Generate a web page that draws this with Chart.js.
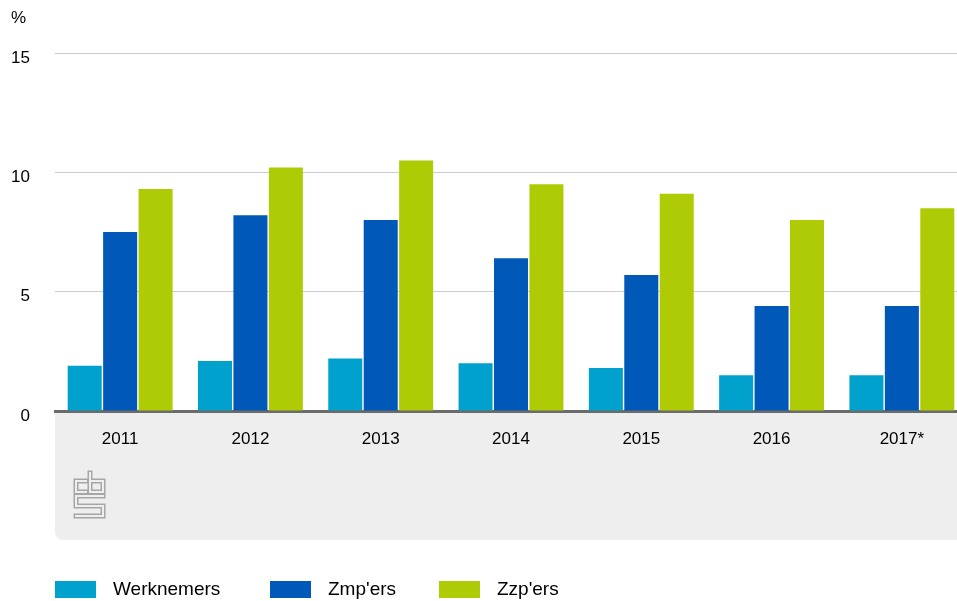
<!DOCTYPE html>
<html>
<head>
    <title>Werknemers, zmp'ers en zzp'ers</title>
    <script src="https://cdn.jsdelivr.net/npm/chart.js"></script>
    <style>
        body { margin: 0; background: #fff; overflow: hidden; }
        #wrap { width: 957px; height: 601px; overflow: hidden; }
    </style>
</head>
<body>
    <div id="wrap"><canvas id="chart" width="967" height="601"></canvas></div>
    <script>
        const years = ['2011', '2012', '2013', '2014', '2015', '2016', '2017*'];
        const werknemers = [1.9, 2.1, 2.2, 2.0, 1.8, 1.5, 1.5];
        const zmpers = [7.5, 8.2, 8.0, 6.4, 5.7, 4.4, 4.4];
        const zzpers = [9.3, 10.2, 10.5, 9.5, 9.1, 8.0, 8.5];
        const yTicks = [0, 5, 10, 15];

        const seriesNames = ['Werknemers', "Zmp'ers", "Zzp'ers"];
        const colors = ['#00a1cd', '#0058b8', '#afcb05'];
        const font = "'Liberation Sans', Arial, Helvetica, sans-serif";

        // grey panel under the axis, cbs logo, % label and legend
        const decor = {
            id: 'decor',
            beforeDraw(chart) {
                const { ctx, chartArea } = chart;
                const x = chart.scales.x;
                const l = chartArea.left, t = chartArea.bottom, r = chartArea.right + 20, b = x.bottom, rad = 9;
                ctx.save();
                ctx.fillStyle = '#eeeeee';
                ctx.beginPath();
                ctx.moveTo(l, t);
                ctx.lineTo(r, t);
                ctx.lineTo(r, b);
                ctx.lineTo(l + rad, b);
                ctx.quadraticCurveTo(l, b, l, b - rad);
                ctx.closePath();
                ctx.fill();

                // logo
                const path = () => {
                    ctx.beginPath();
                    ctx.moveTo(86, 481); ctx.lineTo(76, 481); ctx.lineTo(76, 492); ctx.lineTo(86, 492);
                    ctx.moveTo(90, 473); ctx.lineTo(90, 492); ctx.lineTo(103, 492); ctx.lineTo(103, 481); ctx.lineTo(90, 481);
                    ctx.moveTo(103, 496); ctx.lineTo(76, 496); ctx.lineTo(76, 506); ctx.lineTo(103, 506);
                    ctx.lineTo(103, 516); ctx.lineTo(76, 516);
                };
                ctx.lineJoin = 'miter';
                ctx.lineCap = 'square';
                path();
                ctx.strokeStyle = '#a6a6a6';
                ctx.lineWidth = 5;
                ctx.stroke();
                path();
                ctx.strokeStyle = '#eeeeee';
                ctx.lineWidth = 2;
                ctx.stroke();
                ctx.restore();
            },
            afterDraw(chart) {
                const { ctx } = chart;
                ctx.save();
                ctx.fillStyle = '#000';
                ctx.font = '17px ' + font;
                ctx.textBaseline = 'middle';
                ctx.textAlign = 'left';
                ctx.fillText('%', 11, 18);

                ctx.font = '19px ' + font;
                const xs = [55, 270, 439];
                seriesNames.forEach((name, i) => {
                    ctx.fillStyle = colors[i];
                    ctx.fillRect(xs[i], 581, 41, 17);
                    ctx.fillStyle = '#000';
                    ctx.fillText(name, xs[i] + 58, 590);
                });
                ctx.restore();
            }
        };

        new Chart(document.getElementById('chart'), {
            type: 'bar',
            data: {
                labels: years,
                datasets: [
                    { label: seriesNames[0], data: werknemers, backgroundColor: colors[0] },
                    { label: seriesNames[1], data: zmpers, backgroundColor: colors[1] },
                    { label: seriesNames[2], data: zzpers, backgroundColor: colors[2] }
                ]
            },
            options: {
                responsive: false,
                animation: false,
                layout: { padding: { top: 53, bottom: 61, left: 0, right: 0 } },
                datasets: { bar: { categoryPercentage: 0.816, barPercentage: 0.96 } },
                plugins: { legend: { display: false }, tooltip: { enabled: false } },
                scales: {
                    x: {
                        grid: { display: false },
                        border: { display: true, color: '#6b6b6b', width: 3 },
                        ticks: { color: '#000', font: { family: font, size: 17 }, padding: 10, maxRotation: 0 },
                        afterFit(scale) { scale.height = 129; }
                    },
                    y: {
                        min: 0,
                        max: 15,
                        afterBuildTicks(scale) { scale.ticks = yTicks.map(v => ({ value: v })); },
                        grid: { color: '#cccccc', lineWidth: 1, drawTicks: false, tickLength: 0 },
                        border: { display: false },
                        ticks: { color: '#000', font: { family: font, size: 17 }, padding: 25, labelOffset: 5 },
                        afterFit(scale) { scale.width = 55; }
                    }
                }
            },
            plugins: [decor]
        });
    </script>
</body>
</html>
